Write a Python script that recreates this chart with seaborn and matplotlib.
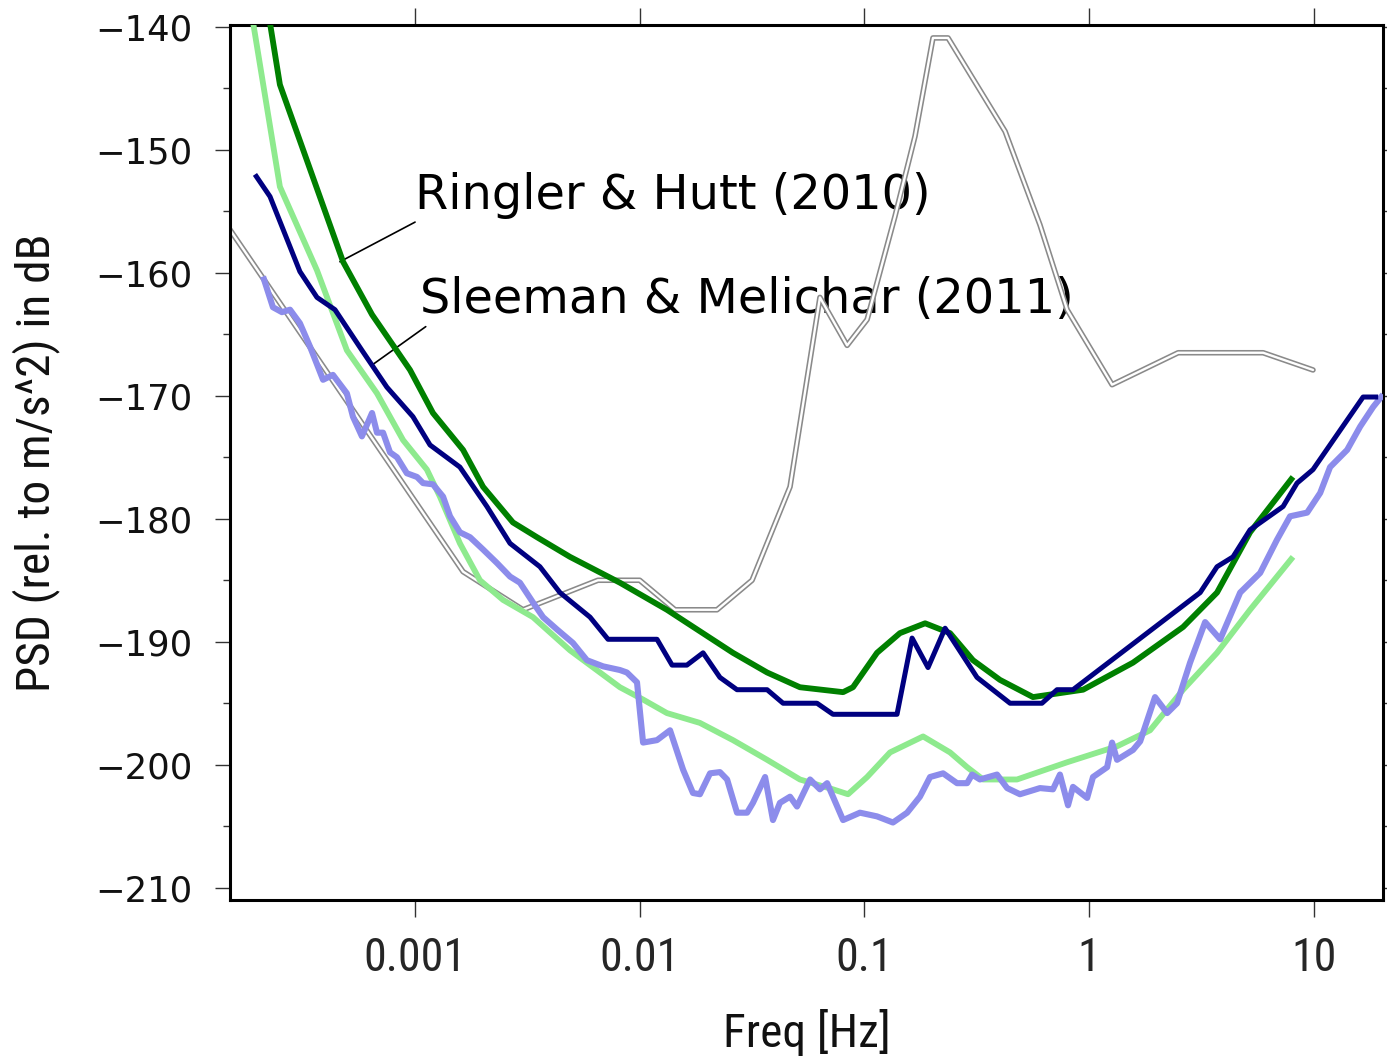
import numpy as np
import pandas as pd
import matplotlib
matplotlib.use("Agg")
import matplotlib.pyplot as plt
import matplotlib.patheffects as pe
from matplotlib import font_manager as fm
from matplotlib.ticker import FixedLocator, NullLocator, FixedFormatter
import seaborn as sns

# ---------------- data (log10 of frequency in Hz, PSD in dB) ----------------
nlnm_logf = [-3.823, -2.786, -2.519, -2.186, -2.0, -1.843, -1.656, -1.500, -1.331,
             -1.198, -1.077, -0.988, -0.864, -0.775, -0.695, -0.628, -0.374, -0.219,
             -0.098, 0.102, 0.396, 0.774, 0.996]
nlnm_db = [-156.5, -184.3, -187.4, -185.0, -185.0, -187.4, -187.4, -185.0, -177.4,
           -162.0, -165.9, -163.8, -155.4, -148.9, -140.9, -140.9, -148.5, -156.1,
           -163.0, -169.1, -166.5, -166.5, -167.9]

ringler_logf = [-3.660, -3.601, -3.320, -3.191, -3.022, -2.920, -2.786, -2.697, -2.564,
                -2.457, -2.310, -2.088, -1.879, -1.585, -1.433, -1.287, -1.095, -1.051,
                -0.944, -0.842, -0.730, -0.619, -0.517, -0.397, -0.250, -0.027, 0.195,
                0.418, 0.569, 0.716, 0.907]
ringler_db = [-138.0, -144.7, -159.1, -163.4, -167.9, -171.4, -174.4, -177.4, -180.3,
              -181.5, -183.1, -185.2, -187.4, -190.9, -192.5, -193.7, -194.1, -193.7,
              -190.9, -189.3, -188.5, -189.3, -191.5, -193.1, -194.5, -193.9, -191.7,
              -188.8, -186.0, -181.1, -176.6]

ringler_low_logf = [-3.735, -3.601, -3.436, -3.303, -3.169, -3.053, -2.947, -2.889, -2.800,
                    -2.711, -2.608, -2.475, -2.310, -2.088, -1.985, -1.879, -1.732, -1.585,
                    -1.433, -1.287, -1.140, -1.073, -0.988, -0.886, -0.739, -0.619, -0.543,
                    -0.472, -0.321, -0.098, 0.124, 0.271, 0.418, 0.569, 0.716, 0.907]
ringler_low_db = [-138.0, -153.0, -159.8, -166.3, -169.8, -173.6, -176.0, -178.2, -182.0,
                  -185.0, -186.6, -188.0, -190.7, -193.7, -194.7, -195.8, -196.6, -198.0,
                  -199.6, -201.2, -202.0, -202.4, -201.0, -199.0, -197.7, -199.0, -200.2,
                  -201.2, -201.2, -199.8, -198.5, -197.2, -193.9, -190.9, -187.4, -183.1]

sleeman_logf = [-3.712, -3.645, -3.512, -3.436, -3.356, -3.236, -3.125, -3.009, -2.933,
                -2.800, -2.680, -2.577, -2.444, -2.355, -2.221, -2.141, -1.923, -1.856,
                -1.790, -1.718, -1.643, -1.567, -1.433, -1.362, -1.211, -1.140, -0.855,
                -0.788, -0.717, -0.641, -0.499, -0.352, -0.210, -0.143, -0.072, 0.494,
                0.569, 0.640, 0.716, 0.863, 0.925, 0.996, 1.219, 1.286]
sleeman_db = [-152.0, -153.8, -159.9, -162.0, -163.0, -166.3, -169.3, -171.7, -174.0,
              -175.8, -179.0, -182.0, -183.9, -186.0, -188.0, -189.8, -189.8, -191.9,
              -191.9, -190.9, -192.9, -193.9, -193.9, -195.0, -195.0, -195.9, -195.9,
              -189.7, -192.1, -188.9, -192.9, -195.0, -195.0, -193.9, -193.9, -186.0,
              -183.9, -183.1, -180.9, -179.0, -177.1, -176.0, -170.1, -170.1]

sleeman_low_logf = [-3.676, -3.632, -3.592, -3.556, -3.512, -3.467, -3.409, -3.365, -3.303,
                    -3.276, -3.236, -3.191, -3.169, -3.142, -3.111, -3.080, -3.036, -2.991,
                    -2.964, -2.920, -2.875, -2.844, -2.800, -2.755, -2.697, -2.635, -2.577,
                    -2.533, -2.475, -2.430, -2.368, -2.297, -2.235, -2.163, -2.088, -2.057,
                    -2.012, -1.985, -1.923, -1.865, -1.807, -1.763, -1.732, -1.687, -1.643,
                    -1.611, -1.567, -1.522, -1.496, -1.442, -1.407, -1.376, -1.331, -1.300,
                    -1.242, -1.198, -1.166, -1.095, -1.020, -0.944, -0.873, -0.810, -0.753,
                    -0.708, -0.650, -0.588, -0.543, -0.521, -0.486, -0.410, -0.365, -0.308,
                    -0.219, -0.161, -0.130, -0.094, -0.072, -0.009, 0.017, 0.080, 0.102,
                    0.124, 0.195, 0.227, 0.293, 0.347, 0.391, 0.449, 0.516,
                    0.583, 0.672, 0.761, 0.836, 0.894, 0.970, 1.028, 1.072, 1.148, 1.206,
                    1.264, 1.308]
sleeman_low_db = [-160.3, -162.8, -163.2, -163.0, -164.1, -166.0, -168.7, -168.3, -169.8,
                  -171.7, -173.3, -171.4, -173.0, -173.0, -174.6, -175.0, -176.3, -176.6,
                  -177.1, -177.2, -178.2, -179.8, -181.1, -181.5, -182.5, -183.6, -184.7,
                  -185.2, -186.8, -188.0, -189.0, -190.1, -191.5, -192.0, -192.3, -192.5,
                  -193.3, -198.2, -198.0, -197.2, -200.4, -202.3, -202.4, -200.7, -200.6,
                  -201.2, -203.9, -203.9, -203.1, -201.0, -204.5, -203.1, -202.6, -203.4,
                  -201.2, -202.0, -201.5, -204.5, -203.9, -204.2, -204.7, -203.9, -202.6,
                  -201.0, -200.7, -201.5, -201.5, -200.8, -201.2, -200.8, -201.9, -202.4,
                  -201.9, -202.0, -200.8, -203.3, -201.8, -202.7, -201.0, -200.2, -198.2,
                  -199.6, -198.8, -198.1, -194.5, -195.8, -195.0, -191.7, -188.4,
                  -189.8, -186.0, -184.4, -181.7, -179.8, -179.5, -177.9, -175.8, -174.4,
                  -172.5, -170.9, -169.9]

xtick_values = [0.001, 0.01, 0.1, 1, 10]
xtick_labels = ["0.001", "0.01", "0.1", "1", "10"]
ytick_values = [-210, -200, -190, -180, -170, -160, -150, -140]
ytick_labels = ["\u2212210", "\u2212200", "\u2212190", "\u2212180",
                "\u2212170", "\u2212160", "\u2212150", "\u2212140"]
yminor_values = [-205, -195, -185, -175, -165, -155, -145]

label_ringler = "Ringler & Hutt (2010)"
label_sleeman = "Sleeman & Melichar (2011)"


def frame(logf, db):
    return pd.DataFrame({"freq": np.power(10.0, np.array(logf)), "psd": db})


# ---------------- style ----------------
sns.set_theme(style="white")
plt.rcParams["font.family"] = ["DejaVu Sans"]

names = {f.name for f in fm.fontManager.ttflist}
narrow_family = "DejaVu Sans"
narrow_stretch = "condensed"
for cand in ["Liberation Sans Narrow", "Roboto Condensed", "Open Sans Condensed"]:
    if cand in names:
        narrow_family = cand
        narrow_stretch = "normal"
        break

fig = plt.figure(figsize=(13.87, 10.56), dpi=100)
ax = fig.add_axes([230 / 1387, 1 - 900 / 1056, (1383 - 230) / 1387, (900 - 25) / 1056])

# NLNM (double grey line)
sns.lineplot(data=frame(nlnm_logf, nlnm_db), x="freq", y="psd", ax=ax, sort=False,
             estimator=None, color="white", linewidth=1.7, zorder=2,
             path_effects=[pe.Stroke(linewidth=4.0, foreground="#8a8a8a"), pe.Normal()])
sns.lineplot(data=frame(ringler_low_logf, ringler_low_db), x="freq", y="psd", ax=ax,
             sort=False, estimator=None, color="#8eea8e", linewidth=4.2, zorder=3,
             solid_capstyle="butt")
sns.lineplot(data=frame(ringler_logf, ringler_db), x="freq", y="psd", ax=ax,
             sort=False, estimator=None, color="#008000", linewidth=4.2, zorder=4,
             solid_capstyle="butt")
sns.lineplot(data=frame(sleeman_low_logf, sleeman_low_db), x="freq", y="psd", ax=ax,
             sort=False, estimator=None, color="#8c8ceb", linewidth=4.4, zorder=5,
             solid_capstyle="butt")
sns.lineplot(data=frame(sleeman_logf, sleeman_db), x="freq", y="psd", ax=ax,
             sort=False, estimator=None, color="#000080", linewidth=3.6, zorder=6,
             solid_capstyle="butt")

ax.set_xscale("log")
ax.set_xlim(1.503e-4, 20.3)
ax.set_ylim(-211.0, -139.85)

ax.xaxis.set_major_locator(FixedLocator(xtick_values))
ax.xaxis.set_minor_locator(NullLocator())
ax.xaxis.set_major_formatter(FixedFormatter(xtick_labels))
ax.yaxis.set_major_locator(FixedLocator(ytick_values))
ax.yaxis.set_minor_locator(FixedLocator(yminor_values))
ax.yaxis.set_major_formatter(FixedFormatter(ytick_labels))

ax.tick_params(axis="x", which="major", direction="out", length=12, width=1,
               color="#333333", top=True, bottom=True, labeltop=False, pad=14)
ax.tick_params(axis="y", which="major", direction="out", length=11, width=1,
               color="#333333", left=True, right=True, pad=16, labelsize=25.5)
ax.tick_params(axis="y", which="minor", direction="out", length=5, width=1,
               color="#333333", left=True, right=True)
for lab in ax.get_xticklabels():
    lab.set_family(narrow_family)
    lab.set_stretch(narrow_stretch)
    lab.set_fontsize(33)
for lab in ax.get_yticklabels():
    lab.set_color("#111111")

for sp in ax.spines.values():
    sp.set_visible(True)
    sp.set_color("black")
    sp.set_linewidth(2.2)

ax.set_xlabel("Freq [Hz]", fontsize=34, family=narrow_family, stretch=narrow_stretch,
              labelpad=21, color="#111111")
ax.set_ylabel("PSD (rel. to m/s^2) in dB", fontsize=34, family=narrow_family,
              stretch=narrow_stretch, labelpad=25, color="#111111")

ax.annotate(label_ringler, xy=(10 ** -3.334, -159.1), xytext=(10 ** -3.0, -153.7),
            fontsize=34.5, va="center", ha="left", color="black", zorder=1,
            arrowprops=dict(arrowstyle="-", color="black", lw=1.2, shrinkA=0, shrinkB=0,
                            relpos=(0.033, 0.12)))
ax.annotate(label_sleeman, xy=(10 ** -3.191, -167.5), xytext=(10 ** -2.978, -162.2),
            fontsize=34.5, va="center", ha="left", color="black", zorder=1,
            arrowprops=dict(arrowstyle="-", color="black", lw=1.2, shrinkA=0, shrinkB=0,
                            relpos=(0.026, 0.10)))

fig.savefig("out.png", dpi=100)
